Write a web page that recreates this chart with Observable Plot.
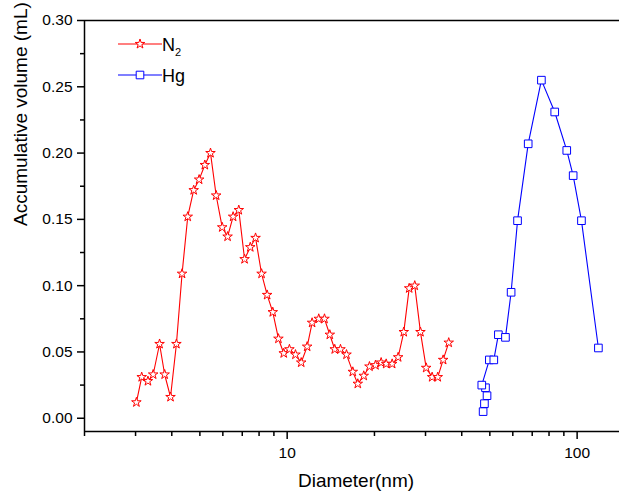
<!DOCTYPE html>
<html><head><meta charset="utf-8">
<script src="https://cdn.jsdelivr.net/npm/d3@7"></script>
<script src="https://cdn.jsdelivr.net/npm/@observablehq/plot@0.6"></script>
<style>
body{margin:0;background:#fff;font-family:"Liberation Sans",Arial,sans-serif;}
#wrap{position:relative;width:619px;height:491px;overflow:hidden;}
.lg-key{position:absolute;left:118px;}
.lg-text{position:absolute;left:162px;font-size:18px;line-height:18px;white-space:nowrap;color:#000;}
.lg-text .sub{font-size:11px;position:relative;top:5px;}
</style></head><body><div id="wrap"></div>
<script>
// N2 series (diameter nm, accumulative volume mL)
const n2Diameter = [3.02,3.15,3.31,3.45,3.63,3.78,3.96,4.15,4.34,4.54,4.76,4.97,5.20,5.44,5.69,5.97,6.23,6.51,6.81,7.13,7.46,7.78,8.16,8.53,8.92,9.33,9.73,10.18,10.68,11.18,11.72,12.19,12.85,13.45,14.03,14.59,15.27,16.02,16.84,17.52,18.37,19.22,20.16,21.09,21.95,23.02,24.14,25.24,26.35,27.54,28.82,30.16,31.62,33.06,34.51,36.07];
const n2Volume = [0.012,0.031,0.028,0.033,0.056,0.033,0.016,0.056,0.109,0.152,0.172,0.180,0.191,0.200,0.168,0.144,0.137,0.152,0.157,0.120,0.129,0.136,0.109,0.093,0.080,0.060,0.049,0.052,0.048,0.042,0.054,0.072,0.075,0.075,0.063,0.052,0.052,0.048,0.035,0.026,0.032,0.039,0.040,0.042,0.041,0.041,0.046,0.065,0.098,0.100,0.065,0.038,0.031,0.031,0.044,0.057];
// Hg series
const hgDiameter = [47.4,47.9,48.9,48.3,46.9,49.8,51.6,53.5,56.6,59.2,62.3,67.8,75.3,83.7,92.1,96.9,103.5,118.4];
const hgVolume = [0.005,0.011,0.017,0.023,0.025,0.044,0.044,0.063,0.061,0.095,0.149,0.207,0.255,0.231,0.202,0.183,0.149,0.053];
const seriesNames = ["N2", "Hg"];
const seriesColors = ["#ff0000", "#0000ff"];
const xMajorTicks = [10, 100];
const xMinorTicks = [2,3,4,5,6,7,8,9,20,30,40,50,60,70,80,90];
const yMajorTicks = [0, 0.05, 0.10, 0.15, 0.20, 0.25, 0.30];
const yMinorTicks = [0.025, 0.075, 0.125, 0.175, 0.225, 0.275];
const xTitle = "Diameter(nm)";
const yTitle = "Accumulative volume (mL)";

const n2 = n2Diameter.map((d, i) => ({d, v: n2Volume[i]}));
const hg = hgDiameter.map((d, i) => ({d, v: hgVolume[i]}));

const plot = Plot.plot({
  width: 619, height: 491,
  marginLeft: 84, marginRight: 0, marginTop: 20, marginBottom: 60,
  style: {fontFamily: "'Liberation Sans', Arial, sans-serif", fontSize: "15.5px", color: "#000", background: "#fff"},
  x: {type: "log", domain: [2, 140]},
  y: {domain: [-0.01, 0.30]},
  marks: [
    Plot.axisX({ticks: xMinorTicks, tickSize: 5, tickFormat: () => "", strokeWidth: 1.5, label: null}),
    Plot.axisX({ticks: xMajorTicks, tickSize: 8, tickPadding: 7, tickFormat: d => String(d), strokeWidth: 1.5, label: null}),
    Plot.axisY({ticks: yMinorTicks, tickSize: 4, tickFormat: () => "", strokeWidth: 1.5, label: null}),
    Plot.axisY({ticks: yMajorTicks, tickSize: 7, tickPadding: 5, tickFormat: d3.format(".2f"), strokeWidth: 1.5, label: null}),
    Plot.ruleX([2], {strokeWidth: 1.5}),
    Plot.ruleY([-0.01, 0.30], {strokeWidth: 1.5}),
    Plot.line(n2, {x: "d", y: "v", stroke: seriesColors[0], strokeWidth: 1.1}),
    Plot.dot(n2, {x: "d", y: "v", symbol: "star", r: 3, stroke: seriesColors[0], fill: "#fff", strokeWidth: 1}),
    Plot.line(hg, {x: "d", y: "v", stroke: seriesColors[1], strokeWidth: 1.1}),
    Plot.dot(hg, {x: "d", y: "v", symbol: "square", r: 4.3, stroke: seriesColors[1], fill: "#fff", strokeWidth: 1}),
    Plot.text([xTitle], {text: d => d, frameAnchor: "bottom", dy: 55, dx: 4, lineAnchor: "bottom", fontSize: 19}),
    Plot.text([yTitle], {text: d => d, frameAnchor: "left", rotate: -90, dx: -64, fontSize: 19})
  ]
});
const wrap = document.getElementById("wrap");
wrap.appendChild(plot);

// Legend
const legendY = [44, 75];
const symbols = [d3.symbolStar, d3.symbolSquare];
const symSizes = [Math.PI * 9, Math.PI * 4.3 * 4.3];
seriesNames.forEach((name, i) => {
  const key = document.createElementNS("http://www.w3.org/2000/svg", "svg");
  key.setAttribute("class", "lg-key");
  key.setAttribute("width", 44); key.setAttribute("height", 14);
  key.style.top = (legendY[i] - 7) + "px";
  const sel = d3.select(key);
  sel.append("line").attr("x1", 0).attr("x2", 44).attr("y1", 7).attr("y2", 7)
    .attr("stroke", seriesColors[i]).attr("stroke-width", 1.1);
  sel.append("path").attr("d", d3.symbol(symbols[i], symSizes[i])())
    .attr("transform", "translate(22,7)").attr("fill", "#fff")
    .attr("stroke", seriesColors[i]).attr("stroke-width", 1);
  wrap.appendChild(key);
  const t = document.createElement("div");
  t.className = "lg-text";
  t.style.top = (legendY[i] - 8.5) + "px";
  if (name === "N2") t.innerHTML = 'N<span class="sub">2</span>';
  else t.textContent = name;
  wrap.appendChild(t);
});
</script>
</body></html>
